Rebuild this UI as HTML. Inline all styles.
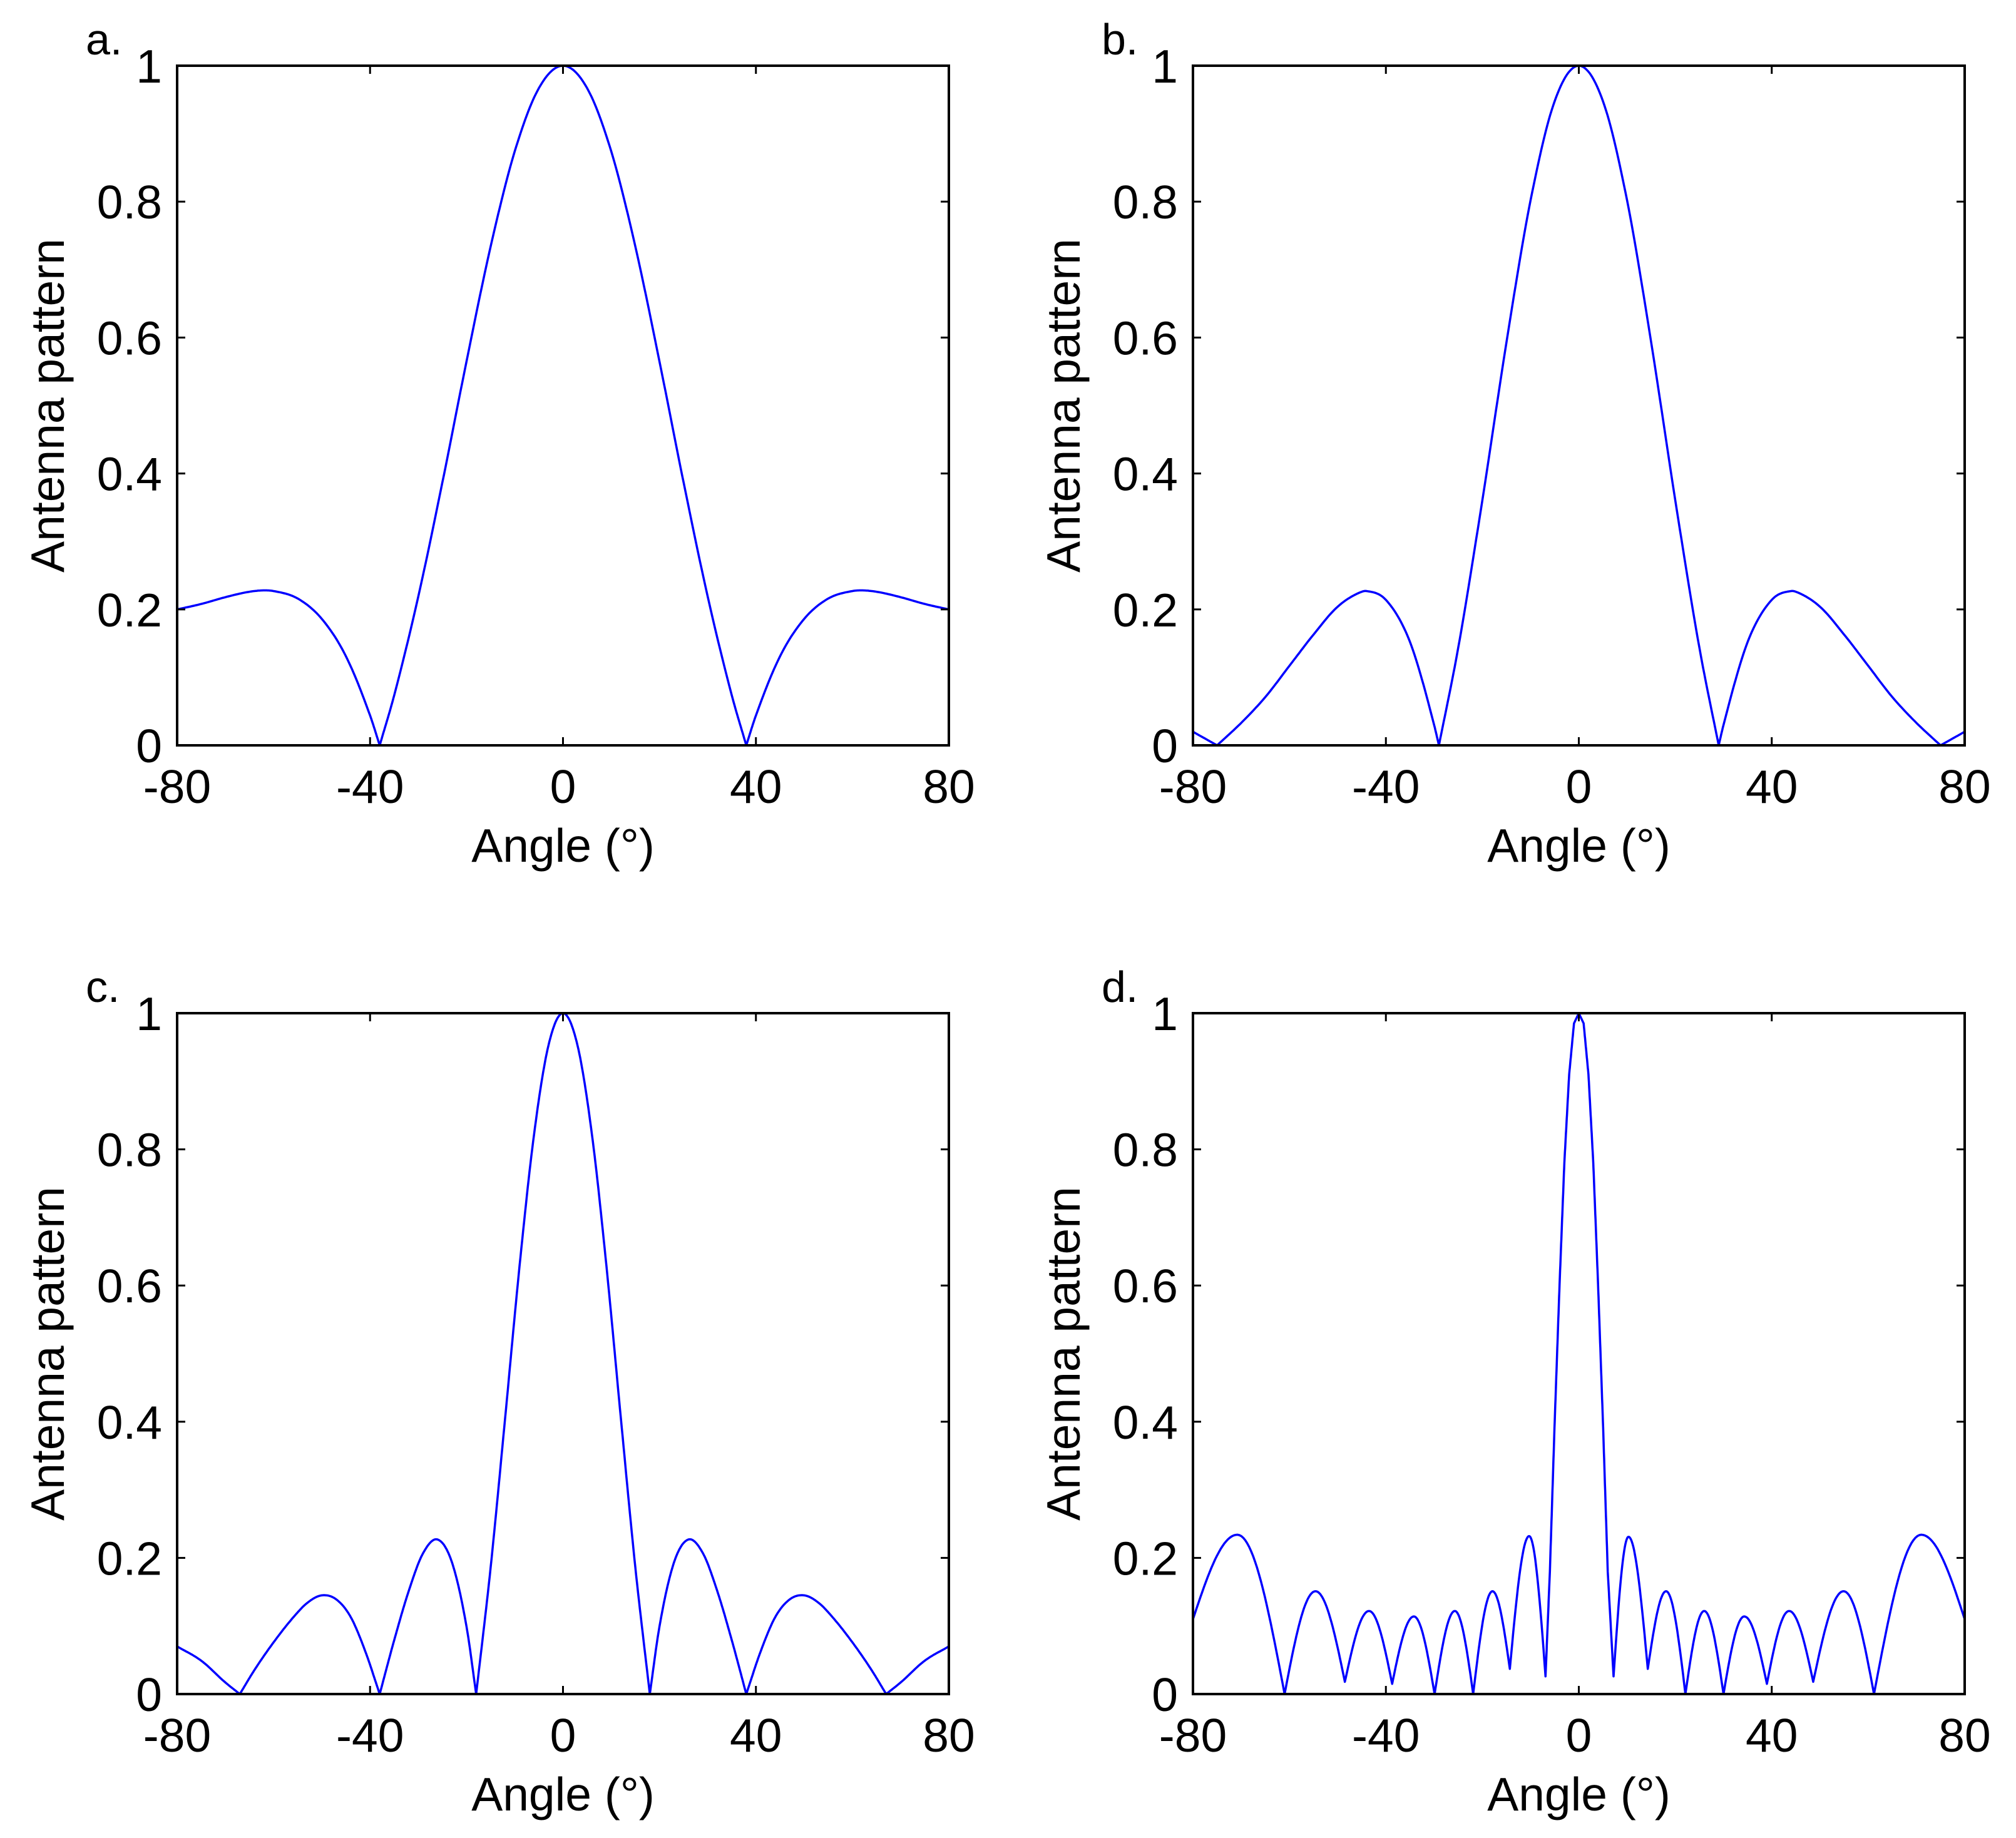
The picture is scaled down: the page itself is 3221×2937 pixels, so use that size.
<!DOCTYPE html>
<html><head><meta charset="utf-8"><style>
html,body{margin:0;padding:0;background:#fff}
svg{display:block}
text{font-family:"Liberation Sans",Arial,sans-serif;fill:#000}
</style></head><body>
<svg id="fig" width="3221" height="2937" viewBox="0 0 3221 2937" xmlns="http://www.w3.org/2000/svg"></svg>
<script>
// ---- data ----
const xTicks = [-80, -40, 0, 40, 80];
const yTicks = [0, 0.2, 0.4, 0.6, 0.8, 1];
const yTickLabels = ["0", "0.2", "0.4", "0.6", "0.8", "1"];

const angA = [-80,-75,-70,-65,-62,-60,-55,-50,-45,-40,-38,-35,-30,-25,-20,-15,-10,-5,0,5,10,15,20,25,30,35,38,40,45,50,55,60,62,65,70,75,80];
const valA = [0.2,0.208,0.218,0.226,0.228,0.227,0.216,0.186,0.131,0.044,0,0.0735,0.219,0.387,0.565,0.734,0.874,0.967,1,0.967,0.874,0.734,0.565,0.387,0.219,0.0735,0,0.044,0.131,0.186,0.216,0.227,0.228,0.226,0.218,0.208,0.2];

const angB = [-80,-75,-70,-65,-60,-55,-50,-45,-44,-40,-35,-30,-29,-25,-20,-15,-10,-5,0,5,10,15,20,25,29,30,35,40,44,45,50,55,60,65,70,75,80];
const valB = [0.02,0,0.033,0.071,0.117,0.163,0.204,0.226,0.227,0.214,0.152,0.03,0,0.1436,0.3606,0.593,0.802,0.948,1,0.948,0.802,0.593,0.3606,0.1436,0,0.03,0.152,0.214,0.227,0.226,0.204,0.163,0.117,0.071,0.033,0,0.02];

const angC = [-80,-75,-70,-67,-64,-60,-56,-53,-50,-47,-44,-41,-38,-35,-32,-29,-26,-23,-20,-18,-15,-12,-9,-6,-3,0,3,6,9,12,15,18,20,23,26,29,32,35,38,41,44,47,50,53,56,60,64,67,70,75,80];
const valC = [0.07,0.049,0.017,0,0.035,0.076,0.112,0.134,0.145,0.139,0.113,0.063,0,0.079,0.151,0.207,0.227,0.193,0.099,0,0.186,0.405,0.629,0.822,0.953,1,0.953,0.822,0.629,0.405,0.186,0,0.099,0.193,0.227,0.207,0.151,0.079,0,0.063,0.113,0.139,0.145,0.134,0.112,0.076,0.035,0,0.017,0.049,0.07];

const angD = [-80,-70.8,-61,-54.6,-48.5,-43.5,-38.7,-34.2,-29.9,-25.7,-21.9,-17.9,-14.3,-10.3,-6.9,-6,-5,-4,-3,-2,-1,0,1,2,3,4,5,6,7.2,10.3,14.3,18.1,22.1,26,30,34.3,39,43.6,48.6,54.9,61.2,71,80];
const valD = [0.11,0.234,0,0.151,0.018,0.122,0.015,0.114,0,0.122,0,0.151,0.037,0.232,0.026,0.18,0.4,0.6,0.78,0.91,0.985,1,0.985,0.91,0.78,0.6,0.4,0.18,0.026,0.231,0.037,0.151,0,0.122,0,0.114,0.015,0.122,0.018,0.151,0,0.234,0.11];

const panels = [
  {id:"a", L:283, R:1516, T:105, B:1191, ang:angA, val:valA, mode:"spline"},
  {id:"b", L:1906, R:3139, T:105, B:1191, ang:angB, val:valB, mode:"spline"},
  {id:"c", L:283, R:1516, T:1619, B:2707, ang:angC, val:valC, mode:"spline"},
  {id:"d", L:1906, R:3139, T:1619, B:2707, ang:angD, val:valD, mode:"lobe"}
];

const NS = "http://www.w3.org/2000/svg";
const svg = document.getElementById("fig");
function mk(tag, attrs, parent){
  const e = document.createElementNS(NS, tag);
  for (const k in attrs) e.setAttribute(k, attrs[k]);
  parent.appendChild(e);
  return e;
}

// build a dense polyline in data space, then map
function densify(a, v, mode){
  const n = a.length, outA = [a[0]], outV = [v[0]];
  const isMax = i => i>0 && i<n-1 && v[i]>=v[i-1] && v[i]>=v[i+1];
  const isMin = i => i>0 && i<n-1 && v[i]<=v[i-1] && v[i]<=v[i+1];
  if (mode === "lobe"){
    for (let i=0;i<n-1;i++){
      const steps = 24;
      for (let s=1;s<=steps;s++){
        const t = s/steps;
        let f;
        if ((isMin(i) || i===0) && isMax(i+1)) f = Math.sin(Math.PI*t/2);
        else if (isMax(i) && (isMin(i+1) || i+1===n-1)) f = 1 - Math.cos(Math.PI*t/2);
        else f = t;
        outA.push(a[i] + (a[i+1]-a[i])*t);
        outV.push(v[i] + (v[i+1]-v[i])*f);
      }
    }
  } else {
    const m = [];
    for (let i=0;i<n;i++){
      const sl = i>0 ? (v[i]-v[i-1])/(a[i]-a[i-1]) : null;
      const sr = i<n-1 ? (v[i+1]-v[i])/(a[i+1]-a[i]) : null;
      if (sl===null) m.push({l:sr,r:sr});
      else if (sr===null) m.push({l:sl,r:sl});
      else if (v[i]===0) m.push({l:sl,r:sr});
      else { const av=(sl+sr)/2; m.push({l:av,r:av}); }
    }
    for (let i=0;i<n-1;i++){
      const h = a[i+1]-a[i], steps = 16;
      for (let s=1;s<=steps;s++){
        const t = s/steps, t2=t*t, t3=t2*t;
        const y = (2*t3-3*t2+1)*v[i] + (t3-2*t2+t)*h*m[i].r + (-2*t3+3*t2)*v[i+1] + (t3-t2)*h*m[i+1].l;
        outA.push(a[i]+h*t); outV.push(Math.max(0,y));
      }
    }
  }
  return [outA, outV];
}

panels.forEach(p => {
  const g = mk("g", {}, svg);
  
  
  const xS = v => p.L + (v + 80) / 160 * (p.R - p.L);
  const yS = v => p.B - v * (p.B - p.T);

  const cp = mk("clipPath", {id:"clip-"+p.id}, g);
  mk("rect", {x:p.L, y:p.T-2, width:p.R-p.L, height:p.B-p.T+2}, cp);

  const [da, dv] = densify(p.ang, p.val, p.mode);
  const pts = da.map((x,i) => xS(x).toFixed(1)+","+yS(dv[i]).toFixed(1)).join(" ");
  const line = mk("polyline", {points:pts, fill:"none", stroke:"#0000ff", "stroke-width":3.5, "stroke-linejoin":"round", "clip-path":"url(#clip-"+p.id+")"}, g);
  
  

  xTicks.forEach(t => {
    const x = xS(t);
    mk("line", {x1:x, y1:p.B, x2:x, y2:p.B-13, stroke:"#000", "stroke-width":3}, g);
    mk("line", {x1:x, y1:p.T, x2:x, y2:p.T+13, stroke:"#000", "stroke-width":3}, g);
    const tl = mk("text", {x:x, y:p.B+92, "font-size":75, "text-anchor":"middle"}, g);
    tl.textContent = (t<0 ? "-" : "") + Math.abs(t);
    
    
  });
  yTicks.forEach((t, i) => {
    const y = yS(t);
    mk("line", {x1:p.L, y1:y, x2:p.L+13, y2:y, stroke:"#000", "stroke-width":3}, g);
    mk("line", {x1:p.R, y1:y, x2:p.R-13, y2:y, stroke:"#000", "stroke-width":3}, g);
    const tl = mk("text", {x:p.L-24, y:y+27, "font-size":75, "text-anchor":"end"}, g);
    tl.textContent = yTickLabels[i];
    
    
  });

  const fr = mk("rect", {x:p.L, y:p.T, width:p.R-p.L, height:p.B-p.T, fill:"none", stroke:"#000", "stroke-width":4}, g);
  
  

  const xt = mk("text", {x:(p.L+p.R)/2, y:p.B+186, "font-size":75, "text-anchor":"middle"}, g);
  xt.textContent = "Angle (\u00B0)";
  
  

  const cy = (p.T+p.B)/2;
  const yt = mk("text", {x:0, y:0, "font-size":75, "text-anchor":"middle", transform:"translate("+(p.L-181)+","+cy+") rotate(-90)"}, g);
  yt.textContent = "Antenna pattern";
  
  

  const pl = mk("text", {x:p.L-146, y:p.T-18, "font-size":70}, g);
  pl.textContent = p.id + ".";
  
  
});
</script>
</body></html>
